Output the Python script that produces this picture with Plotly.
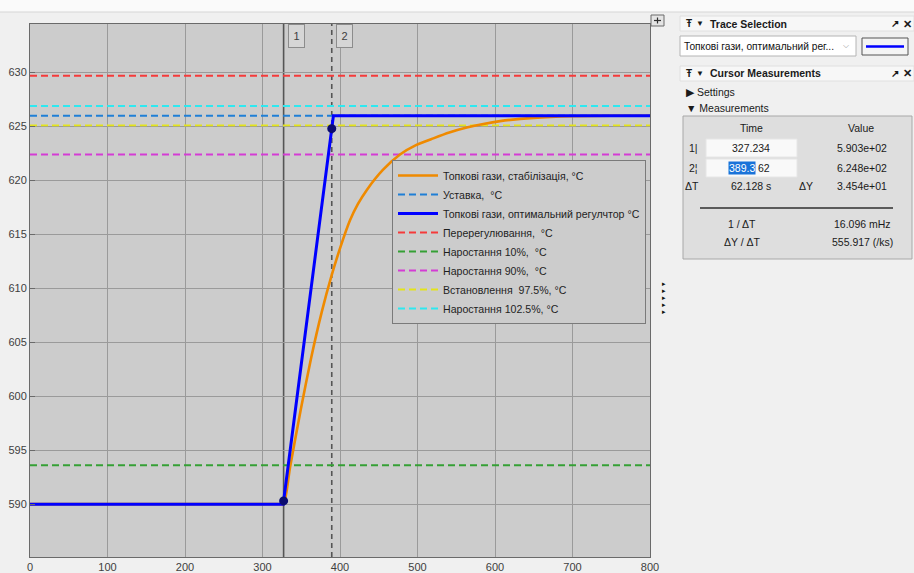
import plotly.graph_objects as go

# ---------------- data ----------------
t_range = [0, 800]

stab_t = [0, 320, 327.2, 335.5, 349.2, 362.6, 376.4, 389.2, 400, 412.9, 423, 434.4, 455, 477.4,
          498, 520.4, 541, 563.5, 585, 606.5, 650, 700, 750, 800]
stab_y = [590.0, 590.0, 590.0, 593.4, 598.7, 603.5, 607.8, 611.2, 613.7, 616.3, 617.8, 619.1, 620.95, 622.4,
          623.27, 623.9, 624.44, 624.9, 625.24, 625.5, 625.8, 625.95, 625.99, 626.0]

opt_t = [0, 326.7, 391.5, 800]
opt_y = [590.0, 590.0, 626.0, 626.0]

level_names = ["Уставка,\u00a0 °C", "Перерегулювання,\u00a0 °C", "Наростання 10%,\u00a0 °C",
               "Наростання 90%,\u00a0 °C", "Встановлення\u00a0 97.5%, °C", "Наростання 102.5%, °C"]
level_values = [626.0, 629.7, 593.6, 622.4, 625.1, 626.9]
level_colors = ["#1f7fd6", "#f53a3a", "#35a035", "#d43cd4", "#e4e41a", "#2ee8f0"]
level_ranks = [2, 4, 5, 6, 7, 8]

stab_name = "Топкові гази, стабілізація, °C"
opt_name = "Топкові гази, оптимальний регулчтор °C"

cursor_times = [327.234, 389.362]
cursor_values = [590.3, 624.8]
cursor_labels = ["1", "2"]
delta_y = 34.538

y_range = [585.1, 634.5]

# ---------------- figure ----------------
W, H = 914, 573
L, R, T, B = 30, 264, 24, 16
PW, PH = W - L - R, H - T - B


def px(x):
    return (x - L) / PW


def py(y):
    return 1 - (y - T) / PH


FONT = "Liberation Sans, Arial, sans-serif"
fig = go.Figure()

for name, val, col, rk in zip(level_names, level_values, level_colors, level_ranks):
    fig.add_trace(go.Scatter(x=t_range, y=[val, val], mode="lines", name=name, legendrank=rk,
                             line=dict(color=col, width=1.9, dash="7px,4px"), hoverinfo="skip"))

fig.add_trace(go.Scatter(x=stab_t, y=stab_y, mode="lines", name=stab_name, legendrank=1,
                         line=dict(color="#ef8a00", width=2.6, shape="spline", smoothing=0.6)))
fig.add_trace(go.Scatter(x=opt_t, y=opt_y, mode="lines", name=opt_name, legendrank=3,
                         line=dict(color="#0000ff", width=3)))
fig.add_trace(go.Scatter(x=cursor_times, y=cursor_values, mode="markers", showlegend=False,
                         marker=dict(color="#0b0b70", size=9)))

shapes = []
annotations = []

# cursors
for ct, lab, dash in zip(cursor_times, cursor_labels, ["solid", "5px,4px"]):
    shapes.append(dict(type="line", xref="x", yref="paper", x0=ct, x1=ct, y0=0, y1=1,
                       line=dict(color="#555555", width=1.6, dash=dash), layer="below"))
    annotations.append(dict(x=ct, y=1, xref="x", yref="paper", xanchor="left", yanchor="top",
                            xshift=4, text=lab, showarrow=False, width=9, height=16, borderpad=3,
                            bgcolor="#d6d6d6", bordercolor="#8c8c8c", borderwidth=1,
                            font=dict(family=FONT, size=11, color="#404040")))

# top strip
shapes.append(dict(type="rect", xref="paper", yref="paper", x0=px(0), x1=px(W), y0=py(12), y1=py(0),
                   fillcolor="#fafafa", line=dict(width=0)))
shapes.append(dict(type="line", xref="paper", yref="paper", x0=px(0), x1=px(W), y0=py(12), y1=py(12),
                   line=dict(color="#d6d6d6", width=1)))


def seg(x0, y0, x1, y1, color, w):
    shapes.append(dict(type="line", xref="paper", yref="paper", x0=px(x0), x1=px(x1), y0=py(y0), y1=py(y1),
                       line=dict(color=color, width=w)))


def rect(x0, y0, x1, y1, fill, line="#b0b0b0", lw=1):
    shapes.append(dict(type="rect", xref="paper", yref="paper", x0=px(x0), x1=px(x1), y0=py(y1), y1=py(y0),
                       fillcolor=fill, line=dict(color=line, width=lw)))


# small expand icon
rect(651, 15, 664, 26, "#e4e4e4", "#6a6a6a")
seg(654, 20.5, 661, 20.5, "#303030", 1.2)
seg(657.5, 17.5, 657.5, 23.5, "#303030", 1.2)

# side arrows
for yy in [284, 291, 298, 305, 312]:
    annotations.append(dict(x=px(668), y=py(yy), xref="paper", yref="paper", text="▸", showarrow=False,
                            font=dict(family="DejaVu Sans", size=7, color="#111111")))


def text(x, y, s, anchor="center", size=10.5, color="#1a1a1a", bold=False, **kw):
    if bold:
        s = "<b>" + s + "</b>"
    annotations.append(dict(x=px(x), y=py(y), xref="paper", yref="paper", text=s, showarrow=False,
                            xanchor=anchor, yanchor="middle",
                            font=dict(family=FONT, size=size, color=color), **kw))


# Trace selection panel
rect(680, 16, 914, 31, "#f7f7f7", "#e0e0e0")
text(684, 23.5, "Ŧ", "left", 10, bold=True)
text(694, 23.5, "▼", "left", 8)
text(708, 23.5, "Trace Selection", "left", 10.5, bold=True)
text(889, 23.5, "↗", "left", 10, bold=True)
text(901, 23.5, "✕", "left", 10.5, bold=True)
rect(680, 36, 856, 56, "#ffffff", "#b4b4b4")
text(682, 46, "Топкові гази, оптимальний рег...", "left", 10.2, "#111111")
text(846, 45, "⌵", "center", 8, "#909090")
rect(862, 38, 908, 55, "#f4f4f4", "#555555")
seg(866, 46.5, 904, 46.5, "#0000ff", 2.5)

# Cursor measurements panel
rect(680, 66, 914, 81, "#f7f7f7", "#e0e0e0")
text(684, 73.5, "Ŧ", "left", 10, bold=True)
text(694, 73.5, "▼", "left", 8)
text(708, 73.5, "Cursor Measurements", "left", 10.5, bold=True)
text(889, 73.5, "↗", "left", 10, bold=True)
text(901, 73.5, "✕", "left", 10.5, bold=True)
text(684, 92, "▶ Settings", "left", 10.5)
text(684, 108, "▼ Measurements", "left", 10.5)
rect(683, 116, 912, 259, "#dedede", "#a8a8a8")
text(751, 128, "Time")
text(861, 128, "Value")
rect(706, 139, 797, 157, "#f9f9f9", "#e6e6e6")
rect(706, 159, 797, 177, "#f9f9f9", "#e6e6e6")
text(693, 148, "1|")
text(693, 168, "2¦")
text(751, 148, f"{cursor_times[0]:.3f}")
t2 = f"{cursor_times[1]:.3f}"
text(756, 168, t2[:5], "right", 10.5, "#ffffff", bgcolor="#1a73d9", borderpad=0)
text(756, 168, t2[5:], "left", 10.5)
text(862, 148, f"{cursor_values[0]:.3e}")
text(862, 168, f"{cursor_values[1]:.3e}")
dT = cursor_times[1] - cursor_times[0]
text(692, 186, "ΔT")
text(751, 186, f"{dT:.3f} s")
text(806, 186, "ΔY")
text(862, 186, f"{delta_y:.3e}")
seg(700, 208, 893, 208, "#5a5a5a", 2)
text(742, 224, "1 / ΔT")
text(862, 224, f"{1000 / dT:.3f} mHz")
text(742, 242, "ΔY / ΔT")
text(862, 242, f"{delta_y / dT * 1000:.3f} (/ks)")

fig.update_layout(
    width=W, height=H,
    margin=dict(l=L, r=R, t=T, b=B, autoexpand=False),
    paper_bgcolor="#f0f0f0",
    plot_bgcolor="#cccccc",
    font=dict(family=FONT, size=11, color="#404040"),
    shapes=shapes,
    annotations=annotations,
    showlegend=True,
    legend=dict(x=px(392), y=py(160), xanchor="left", yanchor="top", bgcolor="#cccccc",
                bordercolor="#7a7a7a", borderwidth=1, itemwidth=40, traceorder="normal",
                font=dict(family=FONT, size=10.6, color="#1e1e1e")),
    xaxis=dict(range=t_range, dtick=100, tick0=0, showgrid=True, gridcolor="#9a9a9a", gridwidth=1,
               zeroline=False, showline=True, linecolor="#6a6a6a", linewidth=1, mirror=True,
               ticks="", automargin=False, tickfont=dict(size=11, color="#404040")),
    yaxis=dict(range=y_range, dtick=5, tick0=590, showgrid=True, gridcolor="#9a9a9a", gridwidth=1,
               zeroline=False, showline=True, linecolor="#6a6a6a", linewidth=1, mirror=True,
               ticks="inside", ticklen=5, tickcolor="#6a6a6a", automargin=False,
               tickfont=dict(size=11, color="#404040")),
)

fig.write_html("out.html", config={"displayModeBar": False},
               post_script="document.body.style.margin='0px';")
